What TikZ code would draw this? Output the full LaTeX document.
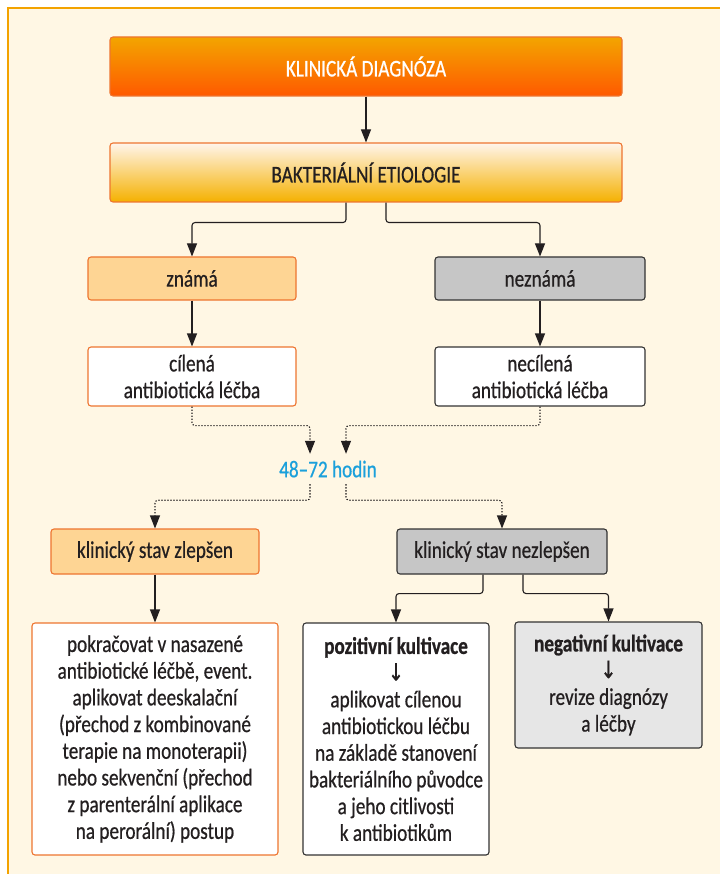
\documentclass[tikz,border=0pt]{standalone}
\usepackage{fontspec}
\setmainfont{Carlito}[FakeStretch=0.8, FakeBold=0.6, BoldFeatures={FakeStretch=0.8, FakeBold=0.8}]
\newfontfamily\arrowfont{DejaVu Sans}[FakeStretch=0.8, FakeBold=0.5]
\usetikzlibrary{arrows.meta}

\definecolor{cream}{HTML}{FFF7E4}
\definecolor{framecol}{HTML}{F3A300}
\definecolor{ink}{HTML}{231F20}
\definecolor{orangeline}{HTML}{EE7530}
\definecolor{knownfill}{HTML}{FED594}
\definecolor{greyfill}{HTML}{C6C6C6}
\definecolor{greyline}{HTML}{333333}
\definecolor{palegrey}{HTML}{E6E6E6}
\definecolor{hourblue}{HTML}{1BA0DB}

\begin{document}
\begin{tikzpicture}[x=1pt,y=-1pt]
        \tikzstyle{every node}+=[font=\fontsize{24}{26.7}\selectfont, text=ink]
        \tikzstyle{box}=[draw, rounded corners=3pt, line width=1.1pt, inner sep=2pt, align=center]
        \tikzstyle{warmbox}=[box, draw=orangeline]
        \tikzstyle{coldbox}=[box, draw=greyline]
        \tikzstyle{conn}=[draw=ink, line width=1.1pt, rounded corners=3pt, -{Triangle[length=13pt,width=10pt]}]
        \tikzstyle{wait}=[conn, dash pattern=on 1.3pt off 1.7pt]
        \useasboundingbox (0,0) rectangle (720,874);
        \fill [cream] (8,8) rectangle (720,874);
        \draw [framecol, line width=2.2pt] (8,874) -- (8,8) -- (720,8);
        % top of the tree
        \node [warmbox, minimum width=512pt, minimum height=59pt, top color=framecol!98!yellow, bottom color=orange!70!red, text=white] (diag) at (366,66.5) {KLINICKÁ DIAGNÓZA};
        \node [warmbox, minimum width=512pt, minimum height=59pt, top color=white!92!orange, bottom color=framecol!85!yellow] (etio) at (366,172.5) {BAKTERIÁLNÍ ETIOLOGIE};
        \node [warmbox, fill=knownfill, minimum width=208pt, minimum height=43pt] (known) at (192,278.5) {známá};
        \node [coldbox, fill=greyfill, minimum width=210pt, minimum height=43pt] (unknown) at (540,278.5) {neznámá};
        \node [warmbox, fill=white, minimum width=208pt, minimum height=59pt] (aimed) at (192,376.5) {cílená\\antibiotická léčba};
        \node [coldbox, fill=white, minimum width=210pt, minimum height=59pt] (blind) at (540,376.5) {necílená\\antibiotická léčba};
        \node [inner sep=0pt, minimum height=30pt, text=hourblue] (hours) at (328,469) {48–72 hodin};
        \node [warmbox, fill=knownfill, minimum width=208pt, minimum height=45pt] (better) at (155,551.5) {klinický stav zlepšen};
        \node [coldbox, fill=greyfill, minimum width=210pt, minimum height=45pt] (worse) at (502,551.5) {klinický stav nezlepšen};
        % bottom row
        \node [warmbox, fill=white, minimum width=246pt, minimum height=232pt] (keep) at (155,739) {pokračovat v nasazené\\antibiotické léčbě, event.\\aplikovat deeskalační\\(přechod z kombinované\\terapie na monoterapii)\\nebo sekvenční (přechod\\z parenterální aplikace\\na perorální) postup};
        \node [coldbox, fill=white, minimum width=186pt, minimum height=232pt] (positive) at (396,739) {\textbf{pozitivní kultivace}\\{\arrowfont\fontsize{24}{26.7}\selectfont ↓}\\aplikovat cílenou\\antibiotickou léčbu\\na základě stanovení\\bakteriálního původce\\a jeho citlivosti\\k antibiotikům};
        \node [coldbox, fill=palegrey, minimum width=187pt, minimum height=126pt] (negative) at (608.5,685) {\textbf{negativní kultivace}\\{\arrowfont\fontsize{24}{26.7}\selectfont ↓}\\revize diagnózy\\a léčby};
        % connectors
        \draw [conn] (diag) -- (etio);
        \draw [conn] ([xshift=-20pt]etio.south) -- ++(0,20) -| (known.north);
        \draw [conn] ([xshift=20pt]etio.south) -- ++(0,20) -| (unknown.north);
        \draw [conn] (known) -- (aimed);
        \draw [conn] (unknown) -- (blind);
        \draw [wait] (aimed.south) -- ++(0,19) -| ([xshift=-18pt]hours.north);
        \draw [wait] (blind.south) -- ++(0,19) -| ([xshift=18pt]hours.north);
        \draw [wait] ([xshift=-18pt]hours.south) -- ++(0,16) -| (better.north);
        \draw [wait] ([xshift=18pt]hours.south) -- ++(0,16) -| (worse.north);
        \draw [conn] (better) -- (keep);
        \draw [conn] ([xshift=-19pt]worse.south) -- ++(0,19) -| (positive.north);
        \draw [conn] ([xshift=21pt]worse.south) -- ++(0,19) -| (negative.north);
\end{tikzpicture}
\end{document}
